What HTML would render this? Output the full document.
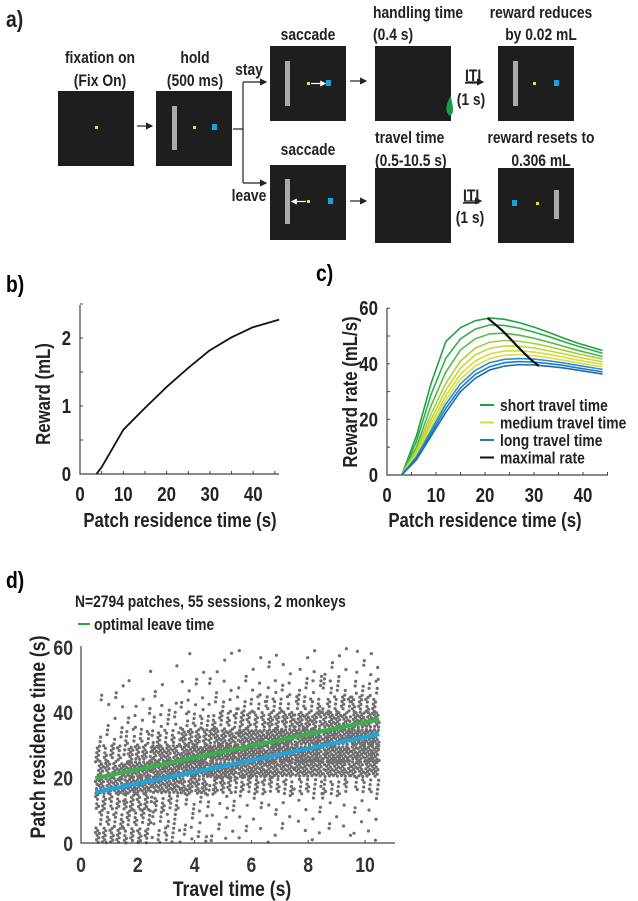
<!DOCTYPE html>
<html><head><meta charset="utf-8"><style>
html,body{margin:0;padding:0;background:#fff}
svg{display:block;font-family:"Liberation Sans",sans-serif;font-weight:bold}
</style></head><body>
<svg id="fig" width="638" height="901" viewBox="0 0 638 901">
<defs><marker id="ah" markerWidth="6" markerHeight="6" refX="5" refY="3" orient="auto"><path d="M0,0 L6,3 L0,6 z" fill="#222"/></marker>
<marker id="wh" markerWidth="5" markerHeight="5" refX="4" refY="2.5" orient="auto"><path d="M0,0 L5,2.5 L0,5 z" fill="#fff"/></marker></defs>
<g fill="#222">
<text x="6" y="27" font-size="23">a)</text>
<g font-size="16.5" text-anchor="middle">
<text x="100" y="63">fixation on</text>
<text x="100" y="86">(Fix On)</text>
<text x="195" y="63">hold</text>
<text x="195" y="86">(500 ms)</text>
<text x="249" y="75">stay</text>
<text x="249" y="201">leave</text>
<text x="308" y="40">saccade</text>
<text x="308" y="155">saccade</text>
<text x="541" y="18">reward reduces</text>
<text x="541" y="40">by 0.02 mL</text>
<text x="541" y="143">reward resets to</text>
<text x="541" y="166">0.306 mL</text>
<text x="471" y="105">(1 s)</text>
<text x="470" y="223">(1 s)</text>
</g>
<g font-size="16.5">
<text x="373" y="18">handling time</text>
<text x="373" y="40">(0.4 s)</text>
<text x="375" y="143">travel time</text>
<text x="375" y="166">(0.5-10.5 s)</text>
<text x="465" y="81" text-decoration="underline">ITI</text>
<text x="463" y="201" text-decoration="underline">ITI</text>
</g>
<g fill="#1e1e1e">
<rect x="58" y="91" width="76" height="75"/>
<rect x="156" y="91" width="76" height="75"/>
<rect x="270" y="46" width="76" height="75"/>
<rect x="270" y="165" width="76" height="75"/>
<rect x="375" y="46" width="76" height="75"/>
<rect x="375" y="168" width="76" height="75"/>
<rect x="498" y="46" width="76" height="75"/>
<rect x="498" y="168" width="76" height="75"/>
</g>
<g fill="#aaa">
<rect x="172" y="106" width="5" height="44"/><rect x="285" y="61" width="5" height="45"/>
<rect x="285" y="179" width="5" height="45"/><rect x="513" y="61" width="5" height="45"/>
<rect x="554" y="190" width="5" height="29"/>
</g>
<g fill="#e8e020">
<rect x="95" y="126" width="3" height="3"/><rect x="193" y="126" width="3" height="3"/>
<rect x="307" y="82" width="3" height="3"/><rect x="307" y="200" width="3" height="3"/>
<rect x="533" y="82" width="3" height="3"/><rect x="536" y="202" width="3" height="3"/>
</g>
<g fill="#1aa0e0">
<rect x="212" y="124" width="5" height="6"/><rect x="326" y="80" width="5" height="6"/>
<rect x="328" y="198" width="5" height="6"/><rect x="554" y="80" width="5" height="6"/>
<rect x="512" y="200" width="5" height="6"/>
</g>
<line x1="311" y1="83.5" x2="325" y2="83.5" stroke="#fff" stroke-width="1.2" marker-end="url(#wh)"/>
<line x1="306" y1="201.5" x2="292" y2="201.5" stroke="#fff" stroke-width="1.2" marker-end="url(#wh)"/>
<path d="M451,95 C446,104 445,110 448,114 C450,117 453,115 453,110 C453,104 451,100 451,95z" fill="#1a9a48"/>
<g stroke="#222" stroke-width="1.2" fill="none">
<line x1="137" y1="126" x2="152" y2="126" marker-end="url(#ah)"/>
<polyline points="233,129 243,129"/>
<polyline points="243,82 243,183"/>
<line x1="243" y1="82" x2="266" y2="82" marker-end="url(#ah)"/>
<line x1="243" y1="183" x2="266" y2="183" marker-end="url(#ah)"/>
<line x1="350" y1="81" x2="366" y2="81" marker-end="url(#ah)"/>
<line x1="350" y1="201" x2="366" y2="201" marker-end="url(#ah)"/>
<line x1="466" y1="82" x2="483" y2="82" marker-end="url(#ah)"/>
<line x1="464" y1="201" x2="481" y2="201" marker-end="url(#ah)"/>
</g>
</g>
<g id="pb"></g>
<g id="pc"></g>
<g id="pd"></g>
</svg>
<script>
// Panel b data
const bTime=[3.8,5,10,15,20,25,30,35,40,46];
const bReward=[0,0.1,0.65,0.97,1.28,1.56,1.82,2.01,2.16,2.27];
const bXTicks=[0,10,20,30,40];
const bYTicks=[0,1,2];
// Panel c data
const cTime=[3,6,9,12,15,18,21,24,27,30,33,36,39,44];
const cGreen1=[0,14,33,48,53,55.5,56.5,56,54.8,53.2,51.3,49.3,47.4,44.8];
const cGreen2=[0,12,29,42,49,52.5,54,53.8,52.8,51.4,49.8,48,46.3,43.8];
const cGreen3=[0,10,25,37,45,49,50.8,51,50.3,49.2,47.8,46.3,44.8,42.6];
const cYel1=[0,9,22,33,41,45.6,47.8,48.4,48.1,47.3,46.2,44.9,43.6,41.7];
const cYel2=[0,8,20,30.5,38.5,43.2,45.6,46.4,46.3,45.7,44.7,43.6,42.4,40.7];
const cYel3=[0,7.5,18.5,28.5,36.3,41,43.6,44.6,44.7,44.2,43.4,42.4,41.3,39.8];
const cYel4=[0,7,17,27,34.5,39.2,41.9,43.1,43.3,42.9,42.2,41.3,40.3,38.9];
const cBlue1=[0,6.5,16,25.5,32.8,37.6,40.4,41.6,41.9,41.7,41.1,40.3,39.4,38];
const cBlue2=[0,6,15,24,31.3,36.2,39,40.4,40.8,40.6,40.1,39.4,38.5,37.1];
const cBlue3=[0,5.5,14,22.5,30,34.8,37.8,39.2,39.7,39.6,39.1,38.5,37.7,36.3];
const cMaxT=[20.5,22,23.5,25,26.5,28,29.5,31];
const cMaxR=[56.5,54.3,52,49.3,46.5,43.8,41.3,39.2];
const cXTicks=[0,10,20,30,40];
const cYTicks=[0,20,40,60];
// Panel d data: counts per travel-time bin (1 s) x residence bin (5 s)
const dXBinStart=[0.5,1.5,2.5,3.5,4.5,5.5,6.5,7.5,8.5,9.5];
const dYBinStart=[0,5,10,15,20,25,30,35,40,45,50,55];
const dCounts=[
[30,20,25,45,40,25,8,3,4,3,0,0],
[25,22,30,55,55,35,15,6,3,1,1,0],
[15,12,20,50,60,45,22,10,4,2,1,0],
[8,6,10,40,60,60,35,15,7,3,2,1],
[5,4,6,30,60,65,45,20,9,4,2,2],
[3,3,5,25,55,65,55,28,12,5,2,2],
[3,3,4,20,50,65,60,36,15,7,3,2],
[3,3,4,18,50,62,62,42,18,8,4,2],
[2,3,4,18,48,60,62,45,22,10,5,3],
[3,3,4,16,45,58,62,46,25,12,5,3]];
const dFitT=[0.5,10.5];
const dOptimal=[19.8,37.8];
const dObserved=[15.5,33.3];
const dXTicks=[0,2,4,6,8,10];
const dYTicks=[0,20,40,60];

const NS="http://www.w3.org/2000/svg";
function mk(parent,tag,attrs,txt){const e=document.createElementNS(NS,tag);for(const k in attrs)e.setAttribute(k,attrs[k]);if(txt!==undefined)e.textContent=txt;parent.appendChild(e);return e;}

// ---- Panel b
(function(){
const g=document.getElementById('pb');
const X=t=>80+t*4.33, Y=v=>474-v*68;
const lab=mk(g,'text',{x:6,y:292,'font-size':23},'b)');


const ax=mk(g,'path',{d:`M80,305 V474 H279`,stroke:'#444','stroke-width':1.2,fill:'none'});


for(let t=5;t<=45;t+=5)mk(g,'line',{x1:X(t),x2:X(t),y1:474,y2:471,stroke:'#444'});
for(let v=0.5;v<=2.5;v+=0.5)mk(g,'line',{x1:80,x2:83,y1:Y(v),y2:Y(v),stroke:'#444'});
bXTicks.forEach(t=>{const e=mk(g,'text',{x:X(t),y:501,'font-size':20,'text-anchor':'middle',fill:'#222'},t);

});
bYTicks.forEach(v=>{const e=mk(g,'text',{x:71,y:Y(v)+7,'font-size':20,'text-anchor':'end',fill:'#222'},v);

});
const xt=mk(g,'text',{x:180,y:527,'font-size':20,'text-anchor':'middle',fill:'#222'},'Patch residence time (s)');


const yt=mk(g,'text',{x:0,y:0,'font-size':20,'text-anchor':'middle',fill:'#222',transform:'translate(50,394) rotate(-90)'},'Reward (mL)');


const ln=mk(g,'polyline',{points:bTime.map((t,i)=>X(t)+','+Y(bReward[i])).join(' '),fill:'none',stroke:'#111','stroke-width':1.8,'stroke-linejoin':'round'});


})();

// ---- Panel c
(function(){
const g=document.getElementById('pc');
const X=t=>387+t*4.9, Y=v=>475-v*2.78;
const lab=mk(g,'text',{x:316,y:281,'font-size':23},'c)');


const ax=mk(g,'path',{d:`M387,308 V475 H608`,stroke:'#444','stroke-width':1.2,fill:'none'});


for(let t=5;t<=45;t+=5)mk(g,'line',{x1:X(t),x2:X(t),y1:475,y2:472,stroke:'#444'});
for(let v=10;v<=60;v+=10)mk(g,'line',{x1:387,x2:390,y1:Y(v),y2:Y(v),stroke:'#444'});
cXTicks.forEach(t=>{const e=mk(g,'text',{x:X(t),y:502,'font-size':20,'text-anchor':'middle',fill:'#222'},t);

});
cYTicks.forEach(v=>{const e=mk(g,'text',{x:378,y:Y(v)+7,'font-size':20,'text-anchor':'end',fill:'#222'},v);

});
const xt=mk(g,'text',{x:485,y:527,'font-size':20,'text-anchor':'middle',fill:'#222'},'Patch residence time (s)');


const yt=mk(g,'text',{x:0,y:0,'font-size':20,'text-anchor':'middle',fill:'#222',transform:'translate(357,392) rotate(-90)'},'Reward rate (mL/s)');


const series=[[cGreen1,'#22a04a'],[cGreen2,'#36ae48'],[cGreen3,'#52ba46'],[cYel1,'#a8d040'],[cYel2,'#c0d83c'],[cYel3,'#d2dc3a'],[cYel4,'#dede3c'],[cBlue1,'#2b8fd6'],[cBlue2,'#1f7dc8'],[cBlue3,'#1a6cb8']];
series.forEach(([vals,col])=>{const p=mk(g,'polyline',{points:cTime.map((t,i)=>X(t)+','+Y(vals[i])).join(' '),fill:'none',stroke:col,'stroke-width':1.6});

});
const mx=mk(g,'polyline',{points:cMaxT.map((t,i)=>X(t)+','+Y(cMaxR[i])).join(' '),fill:'none',stroke:'#111','stroke-width':2.2});


const leg=[['short travel time','#22a04a'],['medium travel time','#d2dc3a'],['long travel time','#1f7dc8'],['maximal rate','#111']];
leg.forEach(([t,c],i)=>{const y=405+i*17.5;
mk(g,'line',{x1:480,x2:494,y1:y,y2:y,stroke:c,'stroke-width':2});
const e=mk(g,'text',{x:500,y:y+6,'font-size':16.5,fill:'#222'},t);

});
})();

// ---- Panel d
(function(){
const g=document.getElementById('pd');
const X=t=>81+t*28.4, Y=v=>843-v*3.27;
const lab=mk(g,'text',{x:6,y:588,'font-size':23},'d)');


const tt=mk(g,'text',{x:75,y:607,'font-size':16.5,fill:'#222'},'N=2794 patches, 55 sessions,  2 monkeys');


mk(g,'line',{x1:78,x2:90,y1:624,y2:624,stroke:'#2aa84a','stroke-width':2});
const lg=mk(g,'text',{x:94,y:630,'font-size':16.5,fill:'#222'},'optimal leave time');


const dots=mk(g,'g',{fill:'#6e6e6e'});


let k=0;
dCounts.forEach((row,i)=>row.forEach((n,j)=>{for(let m=0;m<n;m++){k++;
const fx=(0.5+k*0.7548776662)%1, fy=(0.5+k*0.5698402910)%1;
const c=mk(dots,'circle',{cx:X(dXBinStart[i]+fx).toFixed(1),cy:Y(dYBinStart[j]+fy*5).toFixed(1),r:1.6});}}));
const ax=mk(g,'path',{d:`M81,646 V843 H395`,stroke:'#444','stroke-width':1.2,fill:'none'});


dXTicks.forEach(t=>{mk(g,'line',{x1:X(t),x2:X(t),y1:843,y2:840,stroke:'#444'});
const e=mk(g,'text',{x:X(t),y:872,'font-size':21,'text-anchor':'middle',fill:'#333'},t);

});
dYTicks.forEach(v=>{const e=mk(g,'text',{x:73,y:Y(v)+8,'font-size':21,'text-anchor':'end',fill:'#333'},v);

});
const xt=mk(g,'text',{x:232,y:896,'font-size':21,'text-anchor':'middle',fill:'#222'},'Travel time (s)');


const yt=mk(g,'text',{x:0,y:0,'font-size':21,'text-anchor':'middle',fill:'#222',transform:'translate(45,737) rotate(-90)'},'Patch residence time (s)');


const gl=mk(g,'line',{x1:X(dFitT[0]),y1:Y(dOptimal[0]),x2:X(dFitT[1]),y2:Y(dOptimal[1]),stroke:'#3ab04a','stroke-width':4});


const bl=mk(g,'line',{x1:X(dFitT[0]),y1:Y(dObserved[0]),x2:X(dFitT[1]),y2:Y(dObserved[1]),stroke:'#1ea5e0','stroke-width':4});


})();

// condense all text horizontally to mimic the narrow bold face
document.querySelectorAll('#fig text').forEach(t=>{
  const w=t.getComputedTextLength();
  if(w>0){t.setAttribute('textLength',(w*0.84).toFixed(1));t.setAttribute('lengthAdjust','spacingAndGlyphs');}
});
</script>
</body></html>
